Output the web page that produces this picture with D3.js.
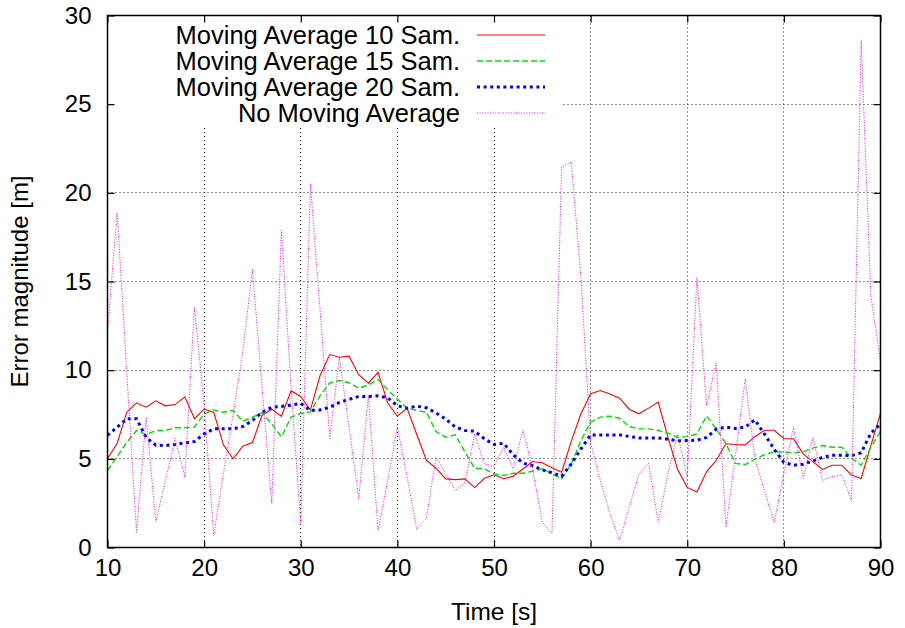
<!DOCTYPE html>
<html>
<head>
<meta charset="utf-8">
<script src="https://cdn.jsdelivr.net/npm/d3@7"></script>
<style>
  body { margin: 0; background: #fff; }
  svg text { font-family: "Liberation Sans", Arial, Helvetica, sans-serif; fill: #000; }
</style>
</head>
<body>
<svg id="chart"></svg>
<script>
var W = 905, H = 628;

// time axis: one sample per second, 10..90
var times = d3.range(10, 91);

var ma10 = [5.0, 5.88, 7.63, 8.16, 7.91, 8.27, 7.99, 8.06, 8.5, 7.26,
  7.8, 7.61, 5.79, 5.0, 5.71, 5.92, 7.46, 7.8, 7.4, 8.83,
  8.52, 7.75, 9.7, 10.88, 10.73, 10.79, 9.74, 9.27, 9.88, 8.15,
  7.4, 7.86, 6.39, 4.92, 4.47, 3.87, 3.83, 3.87, 3.38, 3.9,
  4.1, 3.88, 4.02, 4.43, 4.85, 4.78, 4.5, 4.25, 6.0, 7.54,
  8.67, 8.85, 8.65, 8.42, 7.8, 7.54, 7.86, 8.2, 6.22, 4.4,
  3.39, 3.13, 4.27, 4.92, 5.85, 5.81, 5.79, 6.25, 6.61, 6.61,
  6.15, 6.13, 5.28, 4.84, 4.4, 4.64, 4.64, 4.09, 3.89, 5.75,
  7.56];

var ma15 = [4.34, 5.13, 5.94, 6.6, 6.37, 6.6, 6.6, 6.75, 6.75, 6.79,
  7.54, 7.76, 7.63, 7.73, 7.12, 7.35, 7.6, 6.97, 6.24, 7.35,
  7.56, 7.65, 8.57, 9.28, 9.42, 9.29, 8.98, 9.17, 9.47, 8.89,
  8.38, 7.86, 7.73, 7.63, 6.54, 6.22, 6.35, 5.38, 4.47, 4.44,
  4.15, 4.06, 4.19, 4.19, 4.3, 4.44, 4.15, 3.87, 4.72, 6.03,
  7.07, 7.35, 7.41, 7.29, 6.82, 6.69, 6.69, 6.6, 6.45, 6.22,
  6.25, 6.41, 7.42, 6.69, 5.85, 4.74, 4.68, 4.98, 5.24, 5.4,
  5.38, 5.34, 5.4, 5.6, 5.75, 5.65, 5.65, 5.04, 4.64, 5.65,
  6.55];

var ma20 = [6.32, 6.79, 7.26, 7.26, 6.2, 5.77, 5.75, 5.81, 5.9, 5.98,
  6.41, 6.69, 6.69, 6.69, 6.82, 7.16, 7.63, 7.91, 7.95, 8.03,
  8.12, 7.73, 7.76, 7.91, 8.18, 8.35, 8.52, 8.52, 8.55, 8.44,
  7.99, 7.86, 7.97, 7.88, 7.59, 7.24, 6.79, 6.6, 6.56, 6.13,
  5.81, 5.88, 5.22, 4.76, 4.62, 4.38, 4.21, 4.02, 4.72, 5.56,
  6.35, 6.35, 6.35, 6.35, 6.26, 6.18, 6.18, 6.18, 6.11, 6.02,
  6.03, 6.05, 6.21, 6.67, 6.79, 6.71, 6.79, 7.2, 6.39, 5.54,
  4.8, 4.64, 4.7, 4.88, 5.08, 5.2, 5.2, 5.18, 5.34, 6.45,
  6.96];

var raw = [12.2, 18.9, 9.8, 0.86, 7.35, 1.43, 3.8, 6.15, 3.97, 13.55,
  8.0, 0.68, 4.2, 7.5, 11.0, 15.7, 9.0, 2.48, 17.9, 9.0,
  1.35, 20.5, 13.4, 6.15, 10.7, 6.8, 2.76, 8.57, 0.96, 3.78,
  6.79, 4.0, 1.05, 1.62, 5.1, 4.17, 3.21, 3.68, 6.4, 4.72,
  4.57, 5.66, 4.44, 6.64, 4.4, 1.43, 0.77, 21.45, 21.73, 15.2,
  5.9, 3.8, 1.9, 0.4, 2.27, 4.15, 4.75, 1.43, 4.15, 6.4,
  3.95, 15.24, 8.0, 10.4, 1.15, 5.25, 9.5, 5.0, 3.2, 1.4,
  4.2, 6.8, 3.9, 6.2, 3.8, 4.0, 4.1, 2.65, 28.6, 14.2,
  10.5];

var seriesNames = ["Moving Average 10 Sam.", "Moving Average 15 Sam.", "Moving Average 20 Sam.", "No Moving Average"];
var seriesData = [ma10, ma15, ma20, raw];
var seriesColors = ["#ff0000", "#00e000", "#0000ff", "#ff00ff"];
var seriesDash = [null, "6,3", "3,3.6", "1,1.6"];
var seriesWidth = [1.1, 1.4, 3, 1];

var xTicks = [10, 20, 30, 40, 50, 60, 70, 80, 90];
var yTicks = [0, 5, 10, 15, 20, 25, 30];

var pLeft = 107.5, pRight = 880.5, pTop = 15.5, pBottom = 547.5;

var svg = d3.select("#chart")
  .attr("width", W)
  .attr("height", H);

var x = d3.scaleLinear().domain([10, 90]).range([pLeft, pRight]);
var y = d3.scaleLinear().domain([0, 30]).range([pBottom, pTop]);

// snap to pixel centres so the dotted grid stays crisp
function snap(v) { return Math.round(v - 0.5) + 0.5; }

// grid
var grid = svg.append("g").attr("stroke", "#222").attr("stroke-width", 1);
grid.selectAll("line.gx")
  .data(xTicks.slice(1, -1))
  .enter().append("line")
  .attr("class", "gx")
  .attr("x1", d => snap(x(d))).attr("x2", d => snap(x(d)))
  .attr("y1", 128).attr("y2", pBottom)
  .attr("stroke-dasharray", "1,3");
grid.selectAll("line.gy")
  .data(yTicks.slice(1, -1))
  .enter().append("line")
  .attr("class", "gy")
  .attr("x1", pLeft).attr("x2", pRight)
  .attr("y1", d => snap(y(d))).attr("y2", d => snap(y(d)))
  .attr("stroke-dasharray", "1,3");

// key background hides the grid behind it
svg.append("rect")
  .attr("x", pLeft + 1).attr("y", pTop + 1)
  .attr("width", 562 - pLeft).attr("height", 127 - pTop)
  .attr("fill", "#fff");

// grid lines right of the key run to the top
grid.selectAll("line.gx")
  .filter(d => x(d) > 562)
  .attr("y1", pTop);

svg.append("clipPath").attr("id", "clip")
  .append("rect")
  .attr("x", pLeft).attr("y", pTop)
  .attr("width", pRight - pLeft).attr("height", pBottom - pTop);

var line = d3.line()
  .x((d, i) => x(times[i]))
  .y(d => y(d));

var plot = svg.append("g").attr("clip-path", "url(#clip)");
seriesData.forEach(function(vals, k) {
  plot.append("path")
    .datum(vals)
    .attr("d", line)
    .attr("fill", "none")
    .attr("stroke", seriesColors[k])
    .attr("stroke-width", seriesWidth[k])
    .attr("stroke-dasharray", seriesDash[k]);
});

// axes with mirrored inward ticks
var tickLen = 7;
var fs = 24;

var xb = svg.append("g").attr("transform", "translate(0," + pBottom + ")")
  .call(d3.axisBottom(x).tickValues(xTicks).tickSize(-tickLen).tickPadding(11).tickFormat(d3.format("d")));
var xt = svg.append("g").attr("transform", "translate(0," + pTop + ")")
  .call(d3.axisTop(x).tickValues(xTicks).tickSize(-tickLen).tickFormat(""));
var yl = svg.append("g").attr("transform", "translate(" + pLeft + ",0)")
  .call(d3.axisLeft(y).tickValues(yTicks).tickSize(-tickLen).tickPadding(16).tickFormat(d3.format("d")));
var yr = svg.append("g").attr("transform", "translate(" + pRight + ",0)")
  .call(d3.axisRight(y).tickValues(yTicks).tickSize(-tickLen).tickFormat(""));

[xb, xt, yl, yr].forEach(function(g) {
  g.select(".domain").remove();
  g.selectAll(".tick line").attr("stroke", "#000").attr("stroke-width", 1.2);
  g.selectAll("text")
    .style("font-family", "'Liberation Sans', Arial, Helvetica, sans-serif")
    .style("font-size", fs + "px")
    .attr("fill", "#000");
});
xb.selectAll("text").attr("dy", "0.71em");

svg.append("rect")
  .attr("x", pLeft).attr("y", pTop)
  .attr("width", pRight - pLeft).attr("height", pBottom - pTop)
  .attr("fill", "none").attr("stroke", "#000").attr("stroke-width", 1.5);

svg.append("text")
  .attr("x", (pLeft + pRight) / 2).attr("y", 620)
  .attr("text-anchor", "middle")
  .style("font-size", "24.5px")
  .text("Time [s]");

svg.append("text")
  .attr("transform", "translate(28," + ((pTop + pBottom) / 2) + ") rotate(-90)")
  .attr("text-anchor", "middle")
  .style("font-size", fs + "px")
  .text("Error magnitude [m]");

// key
var key = svg.append("g");
seriesNames.forEach(function(name, k) {
  var ky = 35 + k * 26;
  key.append("text")
    .attr("x", 460).attr("y", ky)
    .attr("dy", "0.35em")
    .attr("text-anchor", "end")
    .style("font-size", "25.5px")
    .text(name);
  key.append("line")
    .attr("x1", 477).attr("x2", 545)
    .attr("y1", ky).attr("y2", ky)
    .attr("stroke", seriesColors[k])
    .attr("stroke-width", seriesWidth[k])
    .attr("stroke-dasharray", seriesDash[k]);
});
</script>
</body>
</html>
